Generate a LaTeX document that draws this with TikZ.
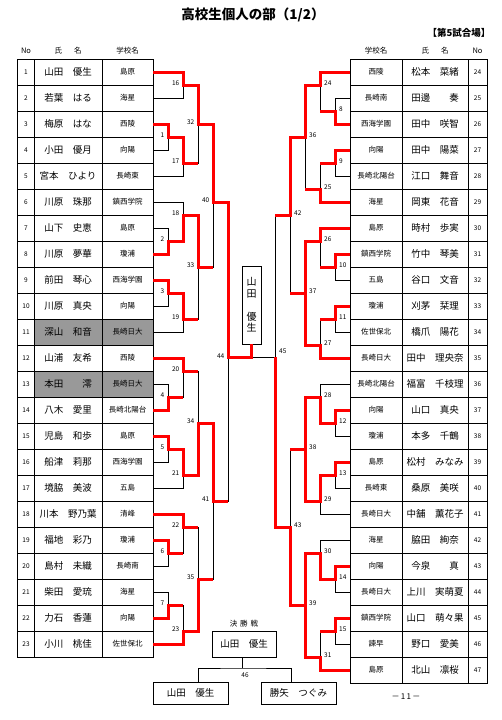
\documentclass[tikz,border=0pt]{standalone}
\usepackage{fontspec}
\setmainfont{Noto Sans CJK JP}
\newcommand\mL[7]{\draw[thinl] (#2,#3) -- (#1,#3) -- (#1,#5) -- (#4,#5); \node[lbl,anchor=east] (m#6) at (#1-3.5,#7-1.5) {#6};}
\newcommand\mR[7]{\draw[thinl] (#2,#3) -- (#1,#3) -- (#1,#5) -- (#4,#5); \node[lbl,anchor=west] (m#6) at (#1+4,#7-1.5) {#6};}
\begin{document}
\begin{tikzpicture}[x=1pt,y=-1pt,
  thinl/.style={draw=black,line width=0.7pt},
  gridl/.style={draw=black,line width=0.8pt},
  winp/.style={draw=red,line width=3pt,line join=miter},
  lbl/.style={font=\fontsize{6.5}{7}\selectfont,inner sep=0pt},
  numtxt/.style={font=\fontsize{6.5}{7}\selectfont,inner sep=0pt},
  nametxt/.style={font=\fontsize{9.5}{10}\selectfont,inner sep=0pt},
  schtxt/.style={font=\fontsize{7.5}{8}\selectfont,inner sep=0pt},
  hdr/.style={font=\fontsize{7.5}{8}\selectfont,inner sep=0pt},
  namebox/.style={draw=black,line width=0.8pt,minimum width=75pt,minimum height=22pt,inner sep=0pt,font=\fontsize{9.5}{10}\selectfont}
]
\fill[white] (0,0) rectangle (502,720);
\useasboundingbox (0,0) rectangle (502,720);
% title
\node[font=\bfseries\fontsize{13.5}{14}\selectfont] (title) at (253,15) {高校生個人の部（1/2）};
\node[font=\bfseries\fontsize{9.5}{10}\selectfont,anchor=east] (venue) at (494,33) {【第5試合場】};
% headers
\node[hdr] (hno) at (26,51) {No};
\node[hdr] (hnm) at (68,51) {氏\hspace{1.6em}名};
\node[hdr] (hsc) at (127.5,51) {学校名};
\node[hdr] (rhsc) at (376,51) {学校名};
\node[hdr] (rhnm) at (435,51) {氏\hspace{1.6em}名};
\node[hdr] (rhno) at (477.5,51) {No};
% shading
\fill[black!40] (34.5,319) rectangle (153,345);
\fill[black!40] (34.5,371) rectangle (153,397);
% left table grid
\draw[gridl] (17.5,59) rectangle (153,657);
\foreach \x in {34.5,102} \draw[gridl] (\x,59)--(\x,657);
\foreach \i in {1,...,22} \draw[gridl] (17.5,59+26*\i)--(153,59+26*\i);
% right table grid
\draw[gridl] (350,59) rectangle (487.5,683);
\foreach \x in {402,468} \draw[gridl] (\x,59)--(\x,683);
\foreach \i in {1,...,23} \draw[gridl] (350,59+26*\i)--(487.5,59+26*\i);
% left entries
\foreach \i/\nm/\sc in {1/山田　優生/島原, 2/若葉　はる/海星, 3/梅原　はな/西陵, 4/小田　優月/向陽, 5/宮本　ひより/長崎東, 6/川原　珠那/鎮西学院, 7/山下　史恵/島原, 8/川原　夢華/瓊浦, 9/前田　琴心/西海学園, 10/川原　真央/向陽, 11/深山　和音/長崎日大, 12/山浦　友希/西陵, 13/本田　　澪/長崎日大, 14/八木　愛里/長崎北陽台, 15/児島　和歩/島原, 16/船津　莉那/西海学園, 17/境脇　美波/五島, 18/川本　野乃葉/清峰, 19/福地　彩乃/瓊浦, 20/島村　未織/長崎南, 21/柴田　愛琉/海星, 22/力石　香蓮/向陽, 23/小川　桃佳/佐世保北}{
  \node[numtxt] (lno\i) at (26,46+26*\i) {\i};
  \node[nametxt] (lnm\i) at (68,46+26*\i) {\nm};
  \node[schtxt] (lsc\i) at (127.5,46+26*\i) {\sc};
}
% right entries
\foreach \p/\nm/\sc in {24/松本　菜緒/西陵, 25/田邊　　奏/長崎南, 26/田中　咲智/西海学園, 27/田中　陽菜/向陽, 28/江口　舞音/長崎北陽台, 29/岡東　花音/海星, 30/時村　歩実/島原, 31/竹中　琴美/鎮西学院, 32/谷口　文音/五島, 33/刈茅　栞理/瓊浦, 34/橋爪　陽花/佐世保北, 35/田中　理央奈/長崎日大, 36/福富　千枝理/長崎北陽台, 37/山口　真央/向陽, 38/本多　千鶴/瓊浦, 39/松村　みなみ/島原, 40/桑原　美咲/長崎東, 41/中舗　薫花子/長崎日大, 42/脇田　絢奈/海星, 43/今泉　　真/向陽, 44/上川　実萌夏/長崎日大, 45/山口　萌々果/鎮西学院, 46/野口　愛美/諫早, 47/北山　凛桜/島原}{
  \node[numtxt] (rno\p) at (477.5,46+26*\p-598) {\p};
  \node[nametxt] (rnm\p) at (435,46+26*\p-598) {\nm};
  \node[schtxt] (rsc\p) at (376,46+26*\p-598) {\sc};
}
% left bracket (thin)
\mL{168}{153}{124}{153}{150}{1}{137}
\mL{168}{153}{228}{153}{254}{2}{241}
\mL{168}{153}{280}{153}{306}{3}{293}
\mL{168}{153}{384}{153}{410}{4}{397}
\mL{168}{153}{436}{153}{462}{5}{449}
\mL{168}{153}{540}{153}{566}{6}{553}
\mL{168}{153}{592}{153}{618}{7}{605}
\mL{183}{153}{72}{153}{98}{16}{85}
\mL{183}{168}{137}{153}{176}{17}{163}
\mL{183}{153}{202}{168}{241}{18}{215}
\mL{183}{168}{293}{153}{332}{19}{319}
\mL{183}{153}{358}{168}{397}{20}{371}
\mL{183}{168}{449}{153}{488}{21}{475}
\mL{183}{153}{514}{168}{553}{22}{527}
\mL{183}{168}{605}{153}{644}{23}{631}
\mL{198}{183}{85}{183}{163}{32}{124}
\mL{198}{183}{215}{183}{319}{33}{267}
\mL{198}{183}{371}{183}{475}{34}{423}
\mL{198}{183}{527}{183}{631}{35}{579}
\mL{213}{198}{124}{198}{267}{40}{202}
\mL{213}{198}{423}{198}{579}{41}{501}
\mL{228}{213}{202}{213}{501}{44}{358}
% right bracket (thin)
\mR{335}{350}{98}{350}{124}{8}{111}
\mR{335}{350}{150}{350}{176}{9}{163}
\mR{335}{350}{254}{350}{280}{10}{267}
\mR{335}{350}{306}{350}{332}{11}{319}
\mR{335}{350}{410}{350}{436}{12}{423}
\mR{335}{350}{462}{350}{488}{13}{475}
\mR{335}{350}{566}{350}{592}{14}{579}
\mR{335}{350}{618}{350}{644}{15}{631}
\mR{320}{350}{72}{335}{111}{24}{85}
\mR{320}{335}{163}{350}{202}{25}{189}
\mR{320}{350}{228}{335}{267}{26}{241}
\mR{320}{335}{319}{350}{358}{27}{345}
\mR{320}{350}{384}{335}{423}{28}{397}
\mR{320}{335}{475}{350}{514}{29}{501}
\mR{320}{350}{540}{335}{579}{30}{553}
\mR{320}{335}{631}{350}{670}{31}{657}
\mR{305}{320}{85}{320}{189}{36}{137}
\mR{305}{320}{241}{320}{345}{37}{293}
\mR{305}{320}{397}{320}{501}{38}{449}
\mR{305}{320}{553}{320}{657}{39}{605}
\mR{290}{305}{137}{305}{293}{42}{215}
\mR{290}{305}{449}{305}{605}{43}{527}
\mR{275}{290}{215}{290}{527}{45}{353}
% champion box
\node[draw,line width=0.8pt,minimum width=19pt,minimum height=78pt,inner sep=0pt,align=center,font=\fontsize{10}{11.5}\selectfont] (champ) at (251.5,305) {山\\田\\\mbox{}\\優\\生};
\draw[thinl] (228,357)--(275,357);
% red winner paths, left
\draw[winp] (153,72)--(183,72)--(183,85)--(198,85)--(198,124)--(213,124)--(213,202)--(228,202)--(228,357)--(251.5,357)--(champ.south);
\draw[winp] (153,124)--(168,124)--(168,137)--(183,137)--(183,163)--(198,163);
\draw[winp] (153,254)--(168,254)--(168,241)--(183,241)--(183,215)--(198,215)--(198,267)--(213,267);
\draw[winp] (153,280)--(168,280)--(168,293)--(183,293)--(183,319)--(198,319);
\draw[winp] (153,358)--(183,358)--(183,371)--(198,371);
\draw[winp] (153,410)--(168,410)--(168,397)--(183,397);
\draw[winp] (153,436)--(168,436)--(168,449)--(183,449)--(183,475)--(198,475)--(198,423)--(213,423)--(213,501)--(228,501);
\draw[winp] (153,514)--(183,514)--(183,527)--(198,527);
\draw[winp] (153,540)--(168,540)--(168,553)--(183,553);
\draw[winp] (153,618)--(168,618)--(168,605)--(183,605);
\draw[winp] (153,644)--(183,644)--(183,631)--(198,631)--(198,579)--(213,579);
% red winner paths, right
\draw[winp] (350,72)--(320,72)--(320,85)--(305,85)--(305,137)--(290,137)--(290,215)--(275,215);
\draw[winp] (350,124)--(335,124)--(335,111)--(320,111);
\draw[winp] (350,150)--(335,150)--(335,163)--(320,163);
\draw[winp] (350,202)--(320,202)--(320,189)--(305,189);
\draw[winp] (350,228)--(320,228)--(320,241)--(305,241)--(305,293)--(290,293);
\draw[winp] (350,254)--(335,254)--(335,267)--(320,267);
\draw[winp] (350,306)--(335,306)--(335,319)--(320,319);
\draw[winp] (350,358)--(320,358)--(320,345)--(305,345)--(305,293);
\draw[winp] (350,410)--(335,410)--(335,423)--(320,423)--(320,397)--(305,397)--(305,449)--(290,449);
\draw[winp] (350,462)--(335,462)--(335,475)--(320,475)--(320,501)--(305,501)--(305,449);
\draw[winp] (350,566)--(335,566)--(335,579)--(320,579)--(320,553)--(305,553)--(305,605)--(290,605)--(290,527)--(275,527)--(275,357);
\draw[winp] (350,618)--(335,618)--(335,631)--(320,631);
\draw[winp] (350,670)--(320,670)--(320,657)--(305,657)--(305,605);
% final section
\node[hdr] (kessho) at (244,624) {決\hspace{0.4em}勝\hspace{0.4em}戦};
\node[draw,line width=0.8pt,minimum width=64pt,minimum height=26pt,inner sep=0pt,font=\fontsize{9.5}{10}\selectfont] (fin) at (244,644) {山田　優生};
\node[namebox] (bl) at (190.5,693) {山田　優生};
\node[namebox] (br) at (298.5,693) {勝矢　つぐみ};
\coordinate (j46) at (242,668);
\draw[thinl] (fin.south -| j46) -- (j46);
\draw[thinl] (bl.north -| 198,0) |- (j46) -| (br.north -| 291,0);
\node[lbl] (m46) at (245,675) {46};
\node[font=\fontsize{8}{9}\selectfont] (page) at (406,697) {－\,1\,1\,－};
\end{tikzpicture}
\end{document}
